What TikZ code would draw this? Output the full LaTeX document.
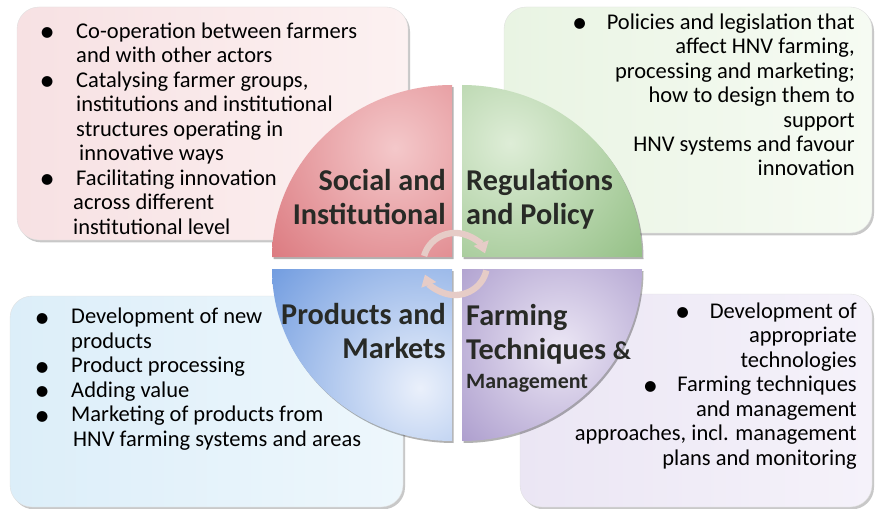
\documentclass[tikz,border=0pt]{standalone}
\usepackage{fontspec}
\setmainfont{Carlito}
\usetikzlibrary{shadows,arrows.meta}

% box and quadrant colours
\definecolor{socboxA}{RGB}{247,225,227}
\definecolor{socboxB}{RGB}{252,241,241}
\definecolor{regboxA}{RGB}{233,244,227}
\definecolor{regboxB}{RGB}{246,251,243}
\definecolor{prodboxA}{RGB}{220,238,249}
\definecolor{prodboxB}{RGB}{238,247,252}
\definecolor{farmboxA}{RGB}{235,230,244}
\definecolor{farmboxB}{RGB}{245,242,250}
\definecolor{soclight}{RGB}{244,200,202}
\definecolor{socdark}{RGB}{206,78,86}
\definecolor{reglight}{RGB}{222,237,215}
\definecolor{regdark}{RGB}{112,170,94}
\definecolor{prodlight}{RGB}{234,240,251}
\definecolor{proddark}{RGB}{70,126,214}
\definecolor{farmlight}{RGB}{236,231,245}
\definecolor{farmdark}{RGB}{116,92,170}
\definecolor{titlegray}{RGB}{40,42,38}
\definecolor{arrowpink}{RGB}{230,204,199}

\tikzset{
  infobox/.style={rounded corners=6.6mm, draw=black!12, line width=0.3pt,
    drop shadow={shadow xshift=0.6mm, shadow yshift=-0.7mm, opacity=0.3, fill=black!70}},
  itemtext/.style={inner sep=0pt, font=\fontsize{19.2}{20.9}\selectfont, text=black},
  quadtitle/.style={inner sep=0pt, font=\fontsize{25.8}{29}\selectfont\bfseries, text=titlegray},
  cyclearrow/.style={line width=1.9mm, draw=arrowpink, -{Triangle[width=4.6mm,length=3.3mm]}}
}

% big list dot, centred on a point before the text
\newcommand{\bigdot}{\makebox[0pt][c]{\smash{\raisebox{-1.1mm}{\fontsize{26}{20}\selectfont\textbullet}}}}
\newcommand{\leftdot}{\llap{\makebox[8.7mm][l]{\bigdot}}}
\newcommand{\rightdot}{\bigdot\hspace{8.1mm}}

\begin{document}
\begin{tikzpicture}[x=0.3mm, y=0.3mm]
  \fill[white] (0,0) rectangle (877,508);
  \useasboundingbox (0,0) rectangle (877,508);

  % the four text boxes
  \path[infobox, left color=socboxA, right color=socboxB] (17,268) rectangle (408,501);
  \path[infobox, left color=regboxA, right color=regboxB] (504,275) rectangle (872,501);
  \path[infobox, left color=prodboxA, right color=prodboxB] (10,1) rectangle (403,212);
  \path[infobox, left color=farmboxA, right color=farmboxB] (520,1) rectangle (872,214);

  % quadrants of the disc, each with a shadow and a shaded fill
  \foreach \qx/\qy/\qstart/\qend/\hx/\hy/\qlight/\qdark in {
      452/251/180/90/395/360/soclight/socdark,
      462/251/0/90/510/365/reglight/regdark,
      452/239/180/270/420/120/prodlight/proddark,
      462/239/0/-90/560/160/farmlight/farmdark} {
    \fill[black, opacity=0.3] ([shift={(1.5,-2)}]\qx,\qy) -- ++(\qstart:180 and 172)
      arc[start angle=\qstart, end angle=\qend, x radius=180, y radius=172] -- cycle;
    \begin{scope}
      \clip (\qx,\qy) -- ++(\qstart:180 and 172)
        arc[start angle=\qstart, end angle=\qend, x radius=180, y radius=172] -- cycle;
      \shade[inner color=\qlight, outer color=\qdark] (\hx,\hy) circle (260);
    \end{scope}
  }

  % quadrant titles (base anchor sits on the last line)
  \node[quadtitle, anchor=base east, align=right] (soctitle) at (446,284) {Social and\\Institutional};
  \node[quadtitle, anchor=base west, align=left] (regtitle) at (466,284) {Regulations\\and Policy};
  \node[quadtitle, anchor=base east, align=right] (prodtitle) at (446,150) {Products and\\Markets};
  \node[quadtitle, anchor=base west, align=left] (farmtitle) at (466,149)
    {Farming\\Techniques {\fontsize{22}{24}\selectfont\&}};
  \node[quadtitle, anchor=base west, font=\fontsize{18.7}{22}\selectfont\bfseries]
    (farmsub) at (466,120) {Management};

  % cycle arrows in the middle
  \coordinate (hub) at (455,244);
  \draw[cyclearrow] (hub) ++(165:32 and 31) arc[start angle=165, end angle=20, x radius=32, y radius=31];
  \draw[cyclearrow] (hub) ++(-12:32 and 31) arc[start angle=-12, end angle=-160, x radius=32, y radius=31];

  % bullet lists
  \node[itemtext, anchor=base west, align=left] (socitems) at (76,274) {%
    \leftdot Co-operation between farmers\\
    and with other actors\\
    \leftdot Catalysing farmer groups,\\
    institutions and institutional\\
    structures operating in\\
    \hspace{0.9mm}innovative ways\\
    \leftdot Facilitating innovation\\
    \hspace{-0.9mm}across different\\
    \hspace{-0.9mm}institutional level};
  \node[itemtext, anchor=base east, align=right] (regitems) at (855,332) {%
    \rightdot Policies and legislation that\\
    affect HNV farming,\\
    processing and marketing;\\
    how to design them to\\
    support\\
    HNV systems and favour\\
    innovation};
  \node[itemtext, anchor=base west, align=left] (proditems) at (71,62) {%
    \leftdot Development of new\\
    products\\
    \leftdot Product processing\\
    \leftdot Adding value\\
    \leftdot Marketing of products from\\
    \hspace{0.6mm}HNV farming systems and areas};
  \node[itemtext, anchor=base east, align=right] (farmitems) at (857,43) {%
    \rightdot Development of\\
    appropriate\\
    technologies\\
    \rightdot Farming techniques\\
    and management\\
    approaches, incl. management\\
    plans and monitoring};
\end{tikzpicture}
\end{document}
